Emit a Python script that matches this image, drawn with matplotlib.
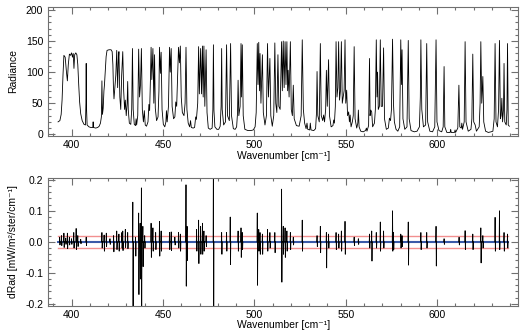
import numpy as np
import matplotlib.pyplot as plt
from matplotlib.ticker import MultipleLocator

plt.rcParams['font.family'] = ['Liberation Sans', 'DejaVu Sans']
plt.rcParams['font.size'] = 7.5

# Measured radiance spectrum, traced as (wavenumber, radiance) vertices
spec_wn = [
    392.6, 393.6, 394.3, 394.8, 395.3, 395.8, 396.5, 397.2, 397.7, 398.2, 398.8, 399.4,
    400.0, 400.5, 400.9, 401.3, 401.7, 402.3, 402.9, 403.4, 403.9, 404.4, 405.0, 405.8,
    406.8, 407.6, 407.85, 408.0, 408.15, 408.5, 409.5, 410.5, 411.6, 411.8, 412.0, 413.2,
    414.3, 415.1, 415.8, 416.3, 416.6, 416.9, 417.3, 417.7, 418.0, 418.4, 418.9, 419.4,
    420.5, 421.6, 422.2, 422.6, 422.9, 423.2,
    424.2, 424.7, 425.2, 425.6, 425.9, 426.4, 426.9, 427.4, 428.0, 428.5, 429.0, 429.4,
    429.9, 430.4, 430.7, 431.0, 431.6, 432.4, 432.9, 433.3, 433.7, 434.3, 435.0, 435.3,
    435.6, 436.2, 436.7, 437.2, 437.7, 438.2, 438.7, 439.3, 439.8, 440.3, 441.0, 441.8,
    442.3, 442.7, 443.2, 443.5, 443.9, 444.5, 445.0, 445.4, 445.8, 446.5, 447.3, 447.8,
    448.1, 448.6, 449.0, 449.5, 450.2, 451.0, 451.6, 451.9, 452.3, 453.0, 453.6, 454.0,
    454.5, 455.0, 455.8, 456.5, 457.0, 457.5, 458.0, 458.5, 459.0, 459.5, 460.0, 460.6,
    461.5, 462.1, 462.6, 463.1, 463.8, 464.6, 465.1, 465.5, 466.5, 467.3, 467.9, 468.3,
    469.0, 469.5, 469.9, 470.6, 471.1, 471.6, 472.0, 472.4, 472.9, 473.6, 474.1, 474.8,
    475.8, 476.9, 477.3, 477.6, 477.9, 478.4, 479.5, 480.5, 481.3, 481.8, 482.1, 482.4,
    483.2, 484.2, 484.8, 485.3, 486.3, 487.0, 487.5, 488.5, 489.5, 490.3, 490.8, 491.1,
    491.5, 492.2, 492.7, 493.0, 493.4, 493.9, 494.8, 496.5, 498.0, 499.4, 500.4, 501.0,
    501.6, 502.0, 502.4, 502.8, 503.1, 503.6, 504.4, 504.9, 505.8, 506.6, 507.2, 507.7,
    508.5, 509.0, 509.8, 510.6, 511.2, 511.7, 512.3, 512.9, 513.4, 514.1, 514.9, 515.3,
    515.8, 516.3, 516.8, 517.3, 517.8, 518.2, 518.5, 519.0, 519.7, 520.2, 520.8, 521.3,
    521.8, 523.0, 524.5, 525.6, 526.2, 526.8, 527.5, 528.3, 528.8, 529.2, 530.3, 530.6,
    531.0, 532.5, 533.5, 534.0, 534.3, 534.7, 535.5, 536.1, 536.6, 537.4, 537.9, 538.4,
    539.0, 539.4, 539.9, 540.6, 541.1, 542.0, 543.0, 543.4, 543.8, 544.3, 544.7, 545.2,
    545.7, 546.1, 546.6, 547.1, 547.6, 548.1, 549.1, 549.6, 550.0, 550.5, 551.0, 551.6,
    552.0, 552.4, 552.9, 553.6, 554.1, 554.6, 555.1, 556.0, 556.6, 556.9, 557.3, 558.2,
    559.5, 560.8, 561.3, 561.6, 562.5, 563.0, 563.3, 563.7, 564.2, 564.7, 565.7, 566.2,
    566.7, 567.1, 567.4, 567.8, 568.4, 568.9, 569.4, 570.1, 570.7, 571.2, 572.2, 573.3,
    573.9, 574.5, 575.0, 575.6, 576.1, 576.6, 577.5, 578.5, 579.5, 580.1, 580.5, 580.8,
    581.3, 582.3, 583.5, 584.2, 584.7, 585.7, 587.5, 589.0, 590.3, 590.8, 591.1, 591.6,
    592.5, 593.7, 594.3, 594.8, 596.0, 597.5, 598.7, 599.4, 599.9, 601.0, 602.5, 603.3,
    603.8, 604.2, 605.3, 607.1, 607.4, 607.7, 609.5, 609.8, 610.1, 611.3, 611.9, 612.4,
    613.2, 613.5, 613.9, 614.8, 615.3, 615.8, 617.0, 618.5, 619.0, 619.5, 620.0, 620.8,
    621.5, 623.0, 623.5, 623.9, 624.4, 625.0, 625.5, 626.5, 628.0, 629.5, 630.5, 631.2,
    631.7, 632.2, 633.0, 633.6, 634.1, 634.6, 635.0, 635.4, 635.8, 636.3, 636.6, 637.0,
    637.8, 638.2, 638.5, 638.9, 639.5,
]
spec_rad = [
    20, 22, 32, 55, 95, 127, 124, 100, 86, 112, 129, 127,
    131, 124, 130, 106, 128, 131, 128, 112, 80, 52, 33, 22,
    16, 15, 50, 114, 45, 15, 12, 11, 11, 20, 11, 10,
    11, 13, 18, 28, 86, 32, 42, 70, 80, 100, 125, 135,
    136, 136, 133, 112, 75, 57,
    95, 135, 75, 120, 133, 60, 40, 95, 133, 70, 40, 55,
    30, 50, 85, 40, 18, 16, 40, 138, 40, 16, 14, 25,
    15, 30, 137, 60, 80, 138, 40, 20, 38, 15, 13, 20,
    48, 38, 95, 140, 88, 138, 50, 128, 42, 22, 28, 70,
    140, 98, 132, 40, 16, 12, 20, 38, 20, 45, 140, 100,
    138, 45, 25, 28, 52, 45, 90, 140, 115, 142, 60, 35,
    30, 50, 140, 40, 18, 12, 22, 11, 10, 11, 28, 24,
    50, 141, 65, 138, 65, 142, 60, 142, 45, 136, 35, 10,
    8, 10, 40, 144, 38, 12, 8, 8, 13, 45, 138, 40,
    15, 20, 144, 30, 22, 146, 30, 9, 8, 12, 35, 87,
    30, 45, 146, 60, 144, 30, 8, 6, 6, 7, 12, 35,
    146, 80, 148, 70, 130, 50, 128, 35, 15, 30, 146, 60,
    122, 30, 13, 30, 147, 50, 35, 128, 45, 40, 149, 70,
    150, 75, 149, 80, 149, 70, 103, 60, 149, 40, 30, 79,
    25, 14, 13, 30, 152, 40, 18, 9, 18, 8, 7, 18,
    7, 6, 9, 35, 101, 30, 20, 146, 30, 22, 31, 20,
    40, 103, 45, 120, 30, 12, 14, 23, 18, 45, 149, 60,
    75, 149, 55, 70, 149, 50, 70, 152, 50, 71, 30, 36,
    20, 31, 12, 20, 30, 141, 25, 10, 18, 39, 12, 5,
    4, 6, 10, 5, 14, 122, 30, 39, 36, 12, 18, 40,
    152, 60, 100, 40, 45, 152, 45, 45, 139, 25, 8, 10,
    26, 22, 40, 153, 50, 20, 8, 5, 12, 152, 80, 136,
    25, 8, 12, 151, 25, 6, 4, 5, 12, 60, 152, 40,
    12, 15, 146, 20, 5, 4, 12, 152, 20, 6, 4, 12,
    109, 12, 3, 3, 8, 3, 3, 7, 3, 10, 79, 12,
    10, 18, 8, 20, 149, 20, 5, 8, 25, 129, 20, 15,
    5, 12, 50, 149, 50, 93, 20, 5, 3, 4, 5, 25,
    146, 20, 12, 40, 151, 25, 30, 58, 20, 40, 114, 20,
    15, 40, 146, 15, 13,
]

# Fit residuals: spike position, positive excursion, negative excursion
resid_wn = [
    393.5, 394.5, 395.8, 396.8, 397.7, 398.8, 400.0, 401.2, 402.5, 403.4, 405.0, 408.0,
    416.6, 417.8, 419.0, 421.0, 423.0, 424.7, 425.9, 427.5, 428.0, 429.4, 430.7, 433.5,
    435.0, 436.7, 437.5, 438.2, 439.0, 440.0, 443.5, 444.5, 446.0, 448.1, 449.0, 453.6,
    454.5, 456.5, 458.5, 459.5, 462.6, 463.2, 468.4, 469.5, 470.6, 471.6, 472.4, 473.6,
    477.6, 482.1, 484.8, 486.8, 491.1, 492.7, 493.4, 501.6, 502.4, 503.1, 504.4, 507.2,
    508.5, 511.2, 514.9, 515.8, 516.8, 517.8, 519.7, 521.3, 526.2, 534.3, 536.1, 539.4,
    540.6, 544.7, 546.1, 547.6, 549.6, 554.6, 556.9, 563.0, 564.2, 566.7, 568.9, 570.7,
    575.6, 576.1, 580.1, 580.8, 584.2, 591.1, 594.3, 599.4, 603.8, 612.0, 615.3, 619.5,
    623.9, 625.0, 631.7, 634.1, 636.6, 638.5,
]
resid_up = [
    0.015, 0.020, 0.028, 0.012, 0.028, 0.015, 0.010, 0.030, 0.043, 0.020, 0.008, 0.015,
    0.030, 0.022, 0.028, 0.010, 0.020, 0.035, 0.025, 0.030, 0.035, 0.040, 0.030, 0.128,
    0.015, 0.093, 0.060, 0.174, 0.050, 0.020, 0.060, 0.045, 0.030, 0.066, 0.035, 0.030,
    0.032, 0.015, 0.030, 0.025, 0.184, 0.050, 0.040, 0.070, 0.050, 0.060, 0.035, 0.020,
    0.300, 0.030, 0.030, 0.080, 0.035, 0.045, 0.030, 0.093, 0.040, 0.030, 0.025, 0.040,
    0.030, 0.030, 0.170, 0.050, 0.045, 0.035, 0.030, 0.015, 0.070, 0.020, 0.050, 0.030,
    0.025, 0.030, 0.025, 0.035, 0.066, 0.015, 0.010, 0.025, 0.035, 0.030, 0.064, 0.035,
    0.100, 0.030, 0.025, 0.020, 0.064, 0.030, 0.030, 0.050, 0.010, 0.015, 0.036, 0.025,
    0.045, 0.020, 0.079, 0.100, 0.030, 0.025,
]
resid_dn = [
    -0.010, -0.012, -0.018, -0.008, -0.022, -0.010, -0.008, -0.020, -0.025, -0.015, -0.006, -0.012,
    -0.020, -0.030, -0.015, -0.008, -0.032, -0.025, -0.030, -0.020, -0.028, -0.018, -0.022, -0.300,
    -0.046, -0.170, -0.120, -0.300, -0.080, -0.020, -0.050, -0.030, -0.025, -0.046, -0.030, -0.025,
    -0.028, -0.010, -0.020, -0.030, -0.143, -0.060, -0.030, -0.070, -0.040, -0.040, -0.030, -0.015,
    -0.300, -0.040, -0.030, -0.073, -0.030, -0.050, -0.025, -0.140, -0.030, -0.040, -0.040, -0.030,
    -0.020, -0.035, -0.130, -0.040, -0.050, -0.030, -0.025, -0.010, -0.030, -0.015, -0.035, -0.084,
    -0.020, -0.025, -0.020, -0.030, -0.040, -0.012, -0.008, -0.020, -0.062, -0.020, -0.030, -0.020,
    -0.030, -0.025, -0.020, -0.015, -0.075, -0.025, -0.020, -0.078, -0.008, -0.010, -0.025, -0.025,
    -0.068, -0.020, -0.030, -0.025, -0.030, -0.020,
]

wn_range = (392.6, 638.6)
tolerance = 0.02

fig = plt.figure(figsize=(5.27, 3.33), dpi=100)
ax1 = fig.add_axes([48 / 527, 1 - 135.7 / 333, 470.3 / 527, 128.4 / 333])
ax2 = fig.add_axes([48 / 527, 1 - 306 / 333, 470.3 / 527, 128.3 / 333])

# Radiance spectrum
ax1.plot(spec_wn, spec_rad, color='black', lw=0.6)
ax1.set_ylim(-2.25, 204.3)
ax1.set_ylabel('Radiance')
ax1.yaxis.set_major_locator(MultipleLocator(50))
ax1.yaxis.set_minor_locator(MultipleLocator(10))

# Residuals: each spike is its own short up/down swing, broken by NaN
rx, ry = [], []
for c, up, dn in zip(resid_wn, resid_up, resid_dn):
    rx += [c - 0.15, c, c + 0.15, c + 0.3, np.nan]
    ry += [0.0, up, dn, 0.0, np.nan]

ax2.plot(wn_range, [tolerance, tolerance], color='#f29090', lw=1.0)
ax2.plot(wn_range, [-tolerance, -tolerance], color='#f29090', lw=1.0)
ax2.plot(wn_range, [0, 0], color='#3a5aa8', lw=1.5)
ax2.plot(rx, ry, color='black', lw=0.6)
ax2.set_ylim(-0.207, 0.207)
ax2.set_ylabel('dRad [mW/m\u00b2/ster/cm\u207b\u00b9]')
ax2.yaxis.set_major_locator(MultipleLocator(0.1))
ax2.yaxis.set_minor_locator(MultipleLocator(0.02))
ax2.yaxis.set_major_formatter(plt.FuncFormatter(lambda v, p: f'{v:.1f}'))

for ax, xlab_y in ((ax1, -0.122), (ax2, -0.113)):
    ax.set_xlim(387.1, 644.4)
    ax.xaxis.set_major_locator(MultipleLocator(50))
    ax.xaxis.set_minor_locator(MultipleLocator(10))
    ax.set_xlabel('Wavenumber [cm\u207b\u00b9]')
    ax.xaxis.set_label_coords(0.5, xlab_y)
    ax.tick_params(which='both', direction='in', top=True, right=True,
                   color='#707070', labelsize=7.5)
    ax.tick_params(axis='x', pad=3)
    ax.tick_params(axis='y', pad=3.5)
    ax.tick_params(which='major', length=5, width=0.8)
    ax.tick_params(which='minor', length=2.5, width=0.8)
    for s in ax.spines.values():
        s.set_color('#707070')
        s.set_linewidth(0.8)
    ax.yaxis.set_label_coords(-0.063, 0.5)

fig.savefig('out.png', dpi=100)
